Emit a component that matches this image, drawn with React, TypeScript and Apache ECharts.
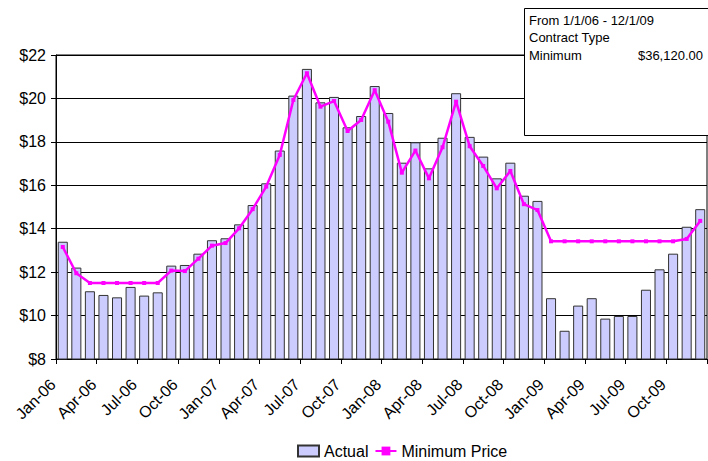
import React, { useEffect, useRef } from "react";
import * as echarts from "echarts";

const months = [
  "Jan-06","Feb-06","Mar-06","Apr-06","May-06","Jun-06","Jul-06","Aug-06","Sep-06","Oct-06","Nov-06","Dec-06",
  "Jan-07","Feb-07","Mar-07","Apr-07","May-07","Jun-07","Jul-07","Aug-07","Sep-07","Oct-07","Nov-07","Dec-07",
  "Jan-08","Feb-08","Mar-08","Apr-08","May-08","Jun-08","Jul-08","Aug-08","Sep-08","Oct-08","Nov-08","Dec-08",
  "Jan-09","Feb-09","Mar-09","Apr-09","May-09","Jun-09","Jul-09","Aug-09","Sep-09","Oct-09","Nov-09","Dec-09",
];

const actual = [
  13.40, 12.21, 11.12, 10.95, 10.84, 11.32, 10.92, 11.07, 12.30, 12.33, 12.85, 13.47,
  13.56, 14.20, 15.09, 16.09, 17.60, 20.13, 21.36, 19.82, 20.07, 18.67, 19.19, 20.57,
  19.33, 17.04, 17.98, 16.78, 18.19, 20.24, 18.23, 17.32, 16.32, 17.04, 15.52, 15.28,
  10.80, 9.30, 10.46, 10.80, 9.86, 9.98, 9.98, 11.19, 12.13, 12.85, 14.09, 14.90,
];

const minimumPrice = [
  13.16, 11.95, 11.50, 11.50, 11.50, 11.50, 11.50, 11.50, 12.07, 12.05, 12.62, 13.22,
  13.34, 14.02, 14.90, 15.94, 17.40, 19.93, 21.16, 19.62, 19.88, 18.50, 19.01, 20.38,
  18.93, 16.58, 17.60, 16.32, 17.75, 19.85, 17.80, 16.89, 15.86, 16.66, 15.13, 14.86,
  13.42, 13.42, 13.42, 13.42, 13.42, 13.42, 13.42, 13.42, 13.42, 13.42, 13.53, 14.36,
];

const infoLines = ["From 1/1/06 - 12/1/09", "Contract Type", "Minimum"];
const infoValue = "$36,120.00";

const FONT = "Liberation Sans, Arial, sans-serif";

export default function App() {
  const ref = useRef<HTMLDivElement>(null);
  useEffect(() => {
    document.body.style.margin = "0";
    if (!ref.current) return;
    const chart = echarts.init(ref.current, undefined, { renderer: "svg" });
    chart.setOption({
      animation: false,
      backgroundColor: "#ffffff",
      textStyle: { fontFamily: FONT, color: "#000" },
      grid: {
        left: 56, right: 1, top: 55, bottom: 102,
        show: true, borderColor: "#000", borderWidth: 1, backgroundColor: "transparent",
      },
      legend: {
        top: 443,
        left: 297,
        padding: 0,
        itemWidth: 21,
        itemHeight: 11,
        itemGap: 6,
        textStyle: { fontFamily: FONT, fontSize: 16, color: "#000" },
        data: [
          { name: "Actual", icon: "rect" },
          { name: "Minimum Price" },
        ],
      },
      xAxis: {
        type: "category",
        data: months,
        boundaryGap: true,
        axisLine: { show: true, lineStyle: { color: "#000", width: 1 } },
        axisTick: { show: true, interval: 2, alignWithLabel: false, length: 5, lineStyle: { color: "#000" } },
        axisLabel: {
          interval: 2, rotate: 45, fontSize: 16, color: "#000", fontFamily: FONT, margin: 13,
          padding: [0, 14, 0, 0],
        },
        splitLine: { show: false },
      },
      yAxis: {
        type: "value",
        min: 8, max: 22, interval: 2,
        axisLine: { show: true, lineStyle: { color: "#000", width: 1 } },
        axisTick: { show: true, length: 5, lineStyle: { color: "#000" } },
        axisLabel: { formatter: (v: number) => "$" + v, fontSize: 16, color: "#000", fontFamily: FONT, margin: 10 },
        splitLine: { show: true, lineStyle: { color: "#000", width: 1 } },
      },
      series: [
        {
          name: "Actual",
          type: "bar",
          data: actual,
          barCategoryGap: "26%",
          itemStyle: { color: "#CCCCFF", borderColor: "#333333", borderWidth: 1 },
          z: 2,
        },
        {
          name: "Minimum Price",
          type: "line",
          data: minimumPrice,
          symbol: "rect",
          symbolSize: 4,
          showSymbol: true,
          lineStyle: { color: "#FF00FF", width: 2.5 },
          itemStyle: { color: "#FF00FF" },
          z: 3,
        },
      ],
      graphic: [
        {
          type: "rect",
          z: 100,
          zlevel: 1,
          shape: { x: 524.5, y: 8.5, width: 200, height: 127 },
          style: { fill: "#fff", stroke: "#000", lineWidth: 1 },
        },
        ...infoLines.map((t, i) => ({
          type: "text",
          z: 101,
          zlevel: 1,
          x: 529,
          y: 20 + i * 17.5,
          style: { text: t, font: `13px ${FONT}`, fill: "#000", textVerticalAlign: "middle", textAlign: "left" },
        })),
        {
          type: "text",
          z: 101,
          zlevel: 1,
          x: 703,
          y: 55,
          style: { text: infoValue, font: `13px ${FONT}`, fill: "#000", textVerticalAlign: "middle", textAlign: "right" },
        },
      ],
    });
    return () => chart.dispose();
  }, []);
  return <div ref={ref} style={{ width: 708, height: 461 }} />;
}
